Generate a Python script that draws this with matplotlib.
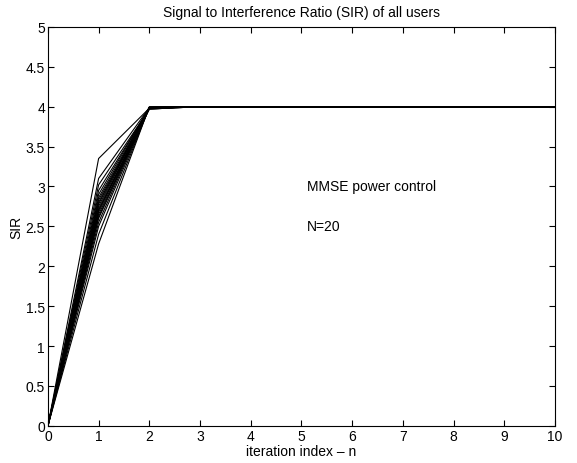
import numpy as np
import matplotlib.pyplot as plt

plt.rcParams['font.family'] = ['Liberation Sans', 'DejaVu Sans']

# SIR of each user per iteration (20 users)
iterations = np.arange(0, 11)
sir_iter1 = [3.35, 3.10, 3.02, 2.95, 2.90, 2.86, 2.83, 2.80, 2.78, 2.75,
             2.72, 2.70, 2.68, 2.65, 2.62, 2.60, 2.55, 2.50, 2.40, 2.28]
sir_iter2 = [3.98, 3.99, 3.97, 3.98, 3.99, 3.98, 3.97, 3.99, 3.98, 3.99,
             3.98, 3.97, 3.99, 3.98, 3.99, 3.98, 3.99, 3.98, 3.99, 4.00]
sir_final = 4.0

fig = plt.figure(figsize=(5.77, 4.64), dpi=100)
ax = fig.add_axes([0.083, 0.080, 0.879, 0.860])

for s1, s2 in zip(sir_iter1, sir_iter2):
    y = [0.0, s1, s2] + [sir_final] * (len(iterations) - 3)
    ax.plot(iterations, y, color='black', lw=0.8)

ax.set_xlim(0, 10)
ax.set_ylim(0, 5)
ax.set_xticks(np.arange(0, 11, 1))
ax.set_yticks(np.arange(0, 5.01, 0.5))
ax.set_yticklabels(['0', '0.5', '1', '1.5', '2', '2.5', '3', '3.5', '4', '4.5', '5'])
ax.tick_params(direction='in', top=True, right=True, labelsize=10, length=4, pad=2)
for sp in ax.spines.values():
    sp.set_linewidth(0.8)

ax.set_title('Signal to Interference Ratio (SIR) of all users', fontsize=10, pad=8)
ax.set_xlabel('iteration index \u2013 n', fontsize=10, labelpad=1)
ax.set_ylabel('SIR', fontsize=10, labelpad=2)

ax.text(5.1, 3.0, 'MMSE power control', fontsize=10, va='center')
ax.text(5.1, 2.5, 'N=20', fontsize=10, va='center')

fig.savefig('out.png', dpi=100)
